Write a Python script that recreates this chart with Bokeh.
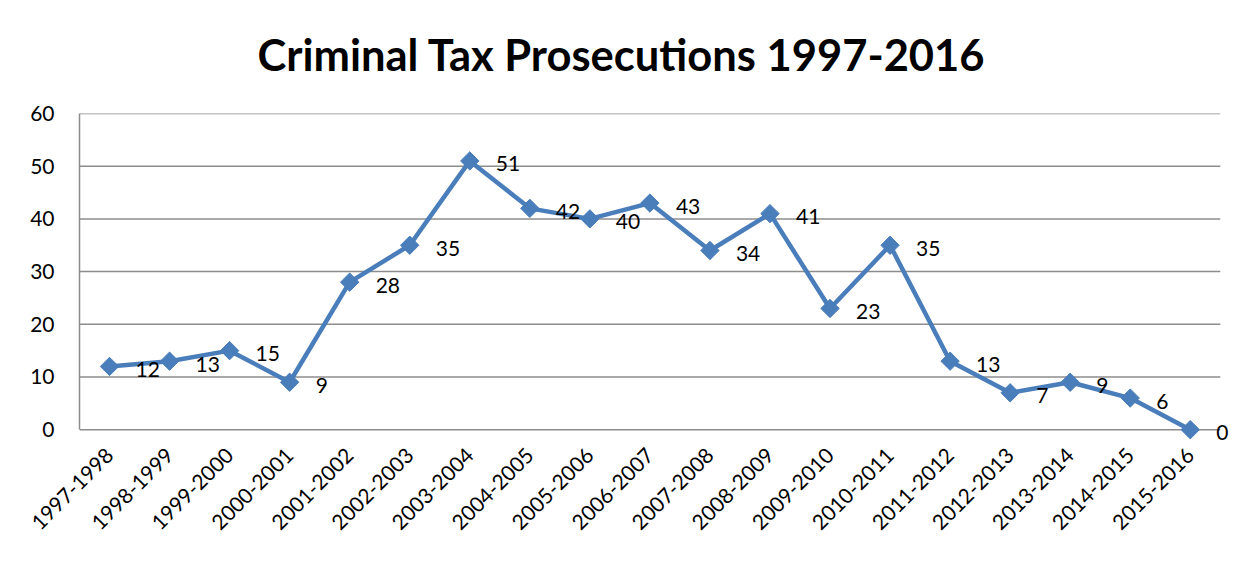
import math
from bokeh.plotting import figure
from bokeh.models import ColumnDataSource, LabelSet, FixedTicker, Range1d, Title
from bokeh.core.properties import value
from bokeh.embed import file_html
from bokeh.resources import INLINE

categories = ["1997-1998", "1998-1999", "1999-2000", "2000-2001", "2001-2002",
              "2002-2003", "2003-2004", "2004-2005", "2005-2006", "2006-2007",
              "2007-2008", "2008-2009", "2009-2010", "2010-2011", "2011-2012",
              "2012-2013", "2013-2014", "2014-2015", "2015-2016"]
prosecutions = [12, 13, 15, 9, 28, 35, 51, 42, 40, 43, 34, 41, 23, 35, 13, 7, 9, 6, 0]
y_ticks = [0, 10, 20, 30, 40, 50, 60]

FONT = "Lato"
LINE = "#4A7EBB"
GRID = "#8C8C8C"

idx = list(range(len(categories)))
n = len(categories)
src = ColumnDataSource(dict(x=idx, val=prosecutions,
                            lab=[str(v) for v in prosecutions]))

p = figure(x_range=Range1d(-0.5, n - 0.5 + 0.27), y_range=Range1d(-3, 60),
           width=1236, height=563, output_backend="svg", toolbar_location=None,
           min_border_left=79, min_border_right=0, min_border_top=111,
           min_border_bottom=114)
p.styles = {"border-left": "1px solid #8C8C8C", "border-top": "1px solid #8C8C8C",
            "margin-top": "-5px", "margin-left": "-1px"}

t = Title(text="Criminal Tax Prosecutions 1997-2016", align="left",
          vertical_align="top",
          text_font=FONT, text_font_size="43.5px", text_font_style="bold",
          text_color="#000000", standoff=63, offset=178)
p.add_layout(t, "above")

p.outline_line_color = None
p.background_fill_color = "white"
p.border_fill_color = "white"

# horizontal gridlines (including the category axis line at 0), limited to the category area
p.segment(x0=[-0.5] * len(y_ticks), x1=[n - 0.5] * len(y_ticks), y0=y_ticks, y1=y_ticks,
          line_color=GRID, line_width=1.5)

p.line("x", "val", source=src, line_color=LINE, line_width=4.5)
p.scatter("x", "val", source=src, marker="square", angle=math.pi / 4,
          size=13, fill_color=LINE, line_color=LINE)

labels = LabelSet(x="x", y="val", text="lab", source=src, x_offset=26, y_offset=-3,
                  text_align="left", text_baseline="middle",
                  text_font=value(FONT), text_font_size=value("21px"),
                  text_color="#000000")
p.add_layout(labels)

p.xgrid.grid_line_color = None
p.ygrid.grid_line_color = None

p.yaxis.ticker = FixedTicker(ticks=y_ticks)
p.yaxis.bounds = (0, 60)
p.xaxis.ticker = FixedTicker(ticks=idx)
p.xaxis.major_label_overrides = {i: c for i, c in zip(idx, categories)}
p.xaxis.axis_line_color = None

for ax in (p.xaxis, p.yaxis):
    ax.major_tick_line_color = None
    ax.minor_tick_line_color = None
    ax.major_tick_out = 0
    ax.major_tick_in = 0
    ax.minor_tick_out = 0
    ax.major_label_text_font = FONT
    ax.major_label_text_font_size = "21px"
    ax.major_label_text_color = "#000000"

p.yaxis.axis_line_color = GRID
p.yaxis.axis_line_width = 1.5
p.yaxis.major_label_standoff = 25
p.xaxis.major_label_standoff = 6
p.xaxis.major_label_orientation = math.pi / 4

open("out.html", "w").write(file_html(p, INLINE))
